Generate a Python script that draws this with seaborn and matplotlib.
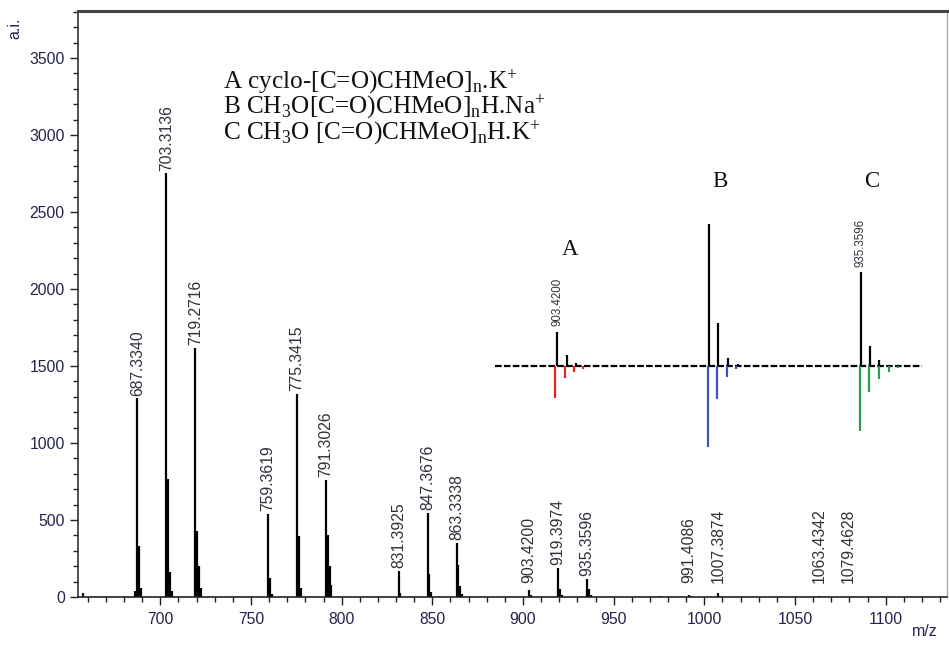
import numpy as np
import pandas as pd
import matplotlib
matplotlib.use("Agg")
import matplotlib.pyplot as plt
from matplotlib.ticker import MultipleLocator
import seaborn as sns

# ========= DATA =========
main_mz = [657.3, 686.3, 687.3340, 688.34, 689.34,
           703.3136, 704.32, 705.32, 706.32,
           719.2716, 720.27, 721.27, 722.28,
           759.3619, 760.36, 761.37,
           775.3415, 776.34, 777.35,
           791.3026, 792.31, 793.31, 794.31,
           831.3925, 832.40,
           847.3676, 848.37, 849.37,
           863.3338, 864.34, 865.34, 866.34,
           903.4200, 904.42,
           919.3974, 920.40, 921.40,
           935.3596, 936.36, 937.36,
           975.4, 991.4086, 992.41, 1007.3874, 1008.39,
           1063.4342, 1079.4628]
main_int = [25, 40, 1290, 330, 60,
            2750, 766, 165, 40,
            1617, 430, 200, 60,
            539, 123, 20,
            1318, 396, 60,
            760, 400, 200, 80,
            169, 25,
            545, 150, 30,
            350, 208, 70, 20,
            45, 12,
            188, 50, 12,
            117, 50, 15,
            8, 15, 5, 25, 8,
            5, 3]
main_labels = ["687.3340", "703.3136", "719.2716", "759.3619", "775.3415",
               "791.3026", "831.3925", "847.3676", "863.3338", "903.4200",
               "919.3974", "935.3596", "991.4086", "1007.3874", "1063.4342",
               "1079.4628"]

# inset: measured (up, black) vs theoretical (down, coloured)
inset_up_mz = [903.42, 904.45, 905.4, 919.40, 920.35, 921.40, 922.4,
               935.36, 936.30, 937.30]
inset_up_int = [24, 7.7, 2, 100, 30, 5.6, 1.4, 66, 14, 4]
theo_A_mz = [903.22, 904.24, 905.2, 906.2]
theo_A_int = [22.5, 8.5, 4.2, 2]
theo_B_mz = [919.3, 920.26, 921.3, 922.25]
theo_B_int = [57, 23, 7.7, 2]
theo_C_mz = [935.25, 936.22, 937.28, 938.3, 939.3]
theo_C_int = [46, 18, 9, 4, 1.4]
inset_labels = ["903.4200", "935.3596"]
series_names = ["A", "B", "C"]
series_pos_mz = [904.8, 920.6, 936.5]
series_pos_int = [81.7, 129.6, 129.6]
series_colors = ["#e8231c", "#3c56b5", "#2f9a55"]

legend_lines = [
    r"A cyclo-[C=O)CHMeO]$_\mathrm{n}$.K$^\mathrm{+}$",
    r"B CH$_\mathrm{3}$O[C=O)CHMeO]$_\mathrm{n}$H.Na$^\mathrm{+}$",
    r"C CH$_\mathrm{3}$O [C=O)CHMeO]$_\mathrm{n}$H.K$^\mathrm{+}$",
]

# ========= STYLE =========
sns.set_style("ticks")
plt.rcParams["font.family"] = ["Liberation Sans", "DejaVu Sans"]
plt.rcParams["mathtext.fontset"] = "custom"
plt.rcParams["mathtext.rm"] = "Liberation Serif"
plt.rcParams["mathtext.it"] = "Liberation Serif:italic"
TICK_C = "#23234d"
LAB_C = "#30303c"

W, H = 949, 645
fig = plt.figure(figsize=(W / 100, H / 100), dpi=100)
ax = fig.add_axes([78 / W, 1 - 597 / H, 869 / W, 586 / H])

df = pd.DataFrame({"mz": main_mz, "intensity": main_int})
ax.vlines(df["mz"], 0, df["intensity"], color="black", lw=1.6)

for lab in main_labels:
    m = float(lab)
    h = df.loc[(df["mz"] - m).abs().idxmin(), "intensity"]
    ax.annotate(lab, (m, max(h, 70)), xytext=(0, 2), textcoords="offset points",
                rotation=90, ha="center", va="bottom", fontsize=11.3, color=LAB_C)

ax.set_xlim(654.6, 1133.8)
ax.set_ylim(0, 3805)
ax.xaxis.set_major_locator(MultipleLocator(50))
ax.xaxis.set_minor_locator(MultipleLocator(10))
ax.yaxis.set_major_locator(MultipleLocator(500))
ax.yaxis.set_minor_locator(MultipleLocator(100))
ax.tick_params(which="major", length=6, width=1, colors="#222222",
               labelcolor=TICK_C, labelsize=11.3)
ax.tick_params(which="minor", length=3.5, width=1, colors="#222222")
ax.tick_params(axis="x", pad=5)
ax.set_yticks(np.arange(0, 3501, 500))
for side, lw, c in [("top", 2.2, "#444444"), ("left", 1.2, "#333333"),
                    ("right", 1.0, "#aaaaaa"), ("bottom", 1.2, "#222222")]:
    ax.spines[side].set_linewidth(lw)
    ax.spines[side].set_color(c)

fig.text(15 / W, 1 - 28 / H, "a.i.", rotation=90, ha="center", va="center",
         fontsize=11.5, color=TICK_C)
fig.text(925 / W, 1 - 631 / H, "m/z", ha="center", va="center",
         fontsize=11.5, color=TICK_C)

# the three formula lines as one block of text
fig.text(223 / W, 1 - 67 / H, "\n".join(legend_lines), ha="left", va="top",
         fontsize=18.2, family="Liberation Serif", color="#111111",
         linespacing=0.83)

# ========= INSET (mirror plot) =========
ins = fig.add_axes([495 / W, 1 - 460 / H, 427 / W, 295 / H])
ins.set_xlim(896.9, 941.8)
ins.set_ylim(-66.2, 141.5)
ins.axis("off")
ins.axhline(0, color="black", lw=1.6, ls=(0, (3, 1)))
ins.vlines(inset_up_mz, 0, inset_up_int, color="black", lw=1.6)
for mz, it, c in [(theo_A_mz, theo_A_int, series_colors[0]),
                  (theo_B_mz, theo_B_int, series_colors[1]),
                  (theo_C_mz, theo_C_int, series_colors[2])]:
    ins.vlines(mz, 0, -np.array(it), color=c, lw=1.6)

for lab in inset_labels:
    m = float(lab)
    j = int(np.argmin(np.abs(np.array(inset_up_mz) - m)))
    ins.annotate(lab, (m, inset_up_int[j]), xytext=(0, 4), textcoords="offset points",
                 rotation=90, ha="center", va="bottom", fontsize=8.3, color=LAB_C)

for name, x, y in zip(series_names, series_pos_mz, series_pos_int):
    ins.text(x, y, name, ha="center", va="center", fontsize=16.5,
             family="Liberation Serif", color="#111111")

fig.savefig("out.png", dpi=100)
